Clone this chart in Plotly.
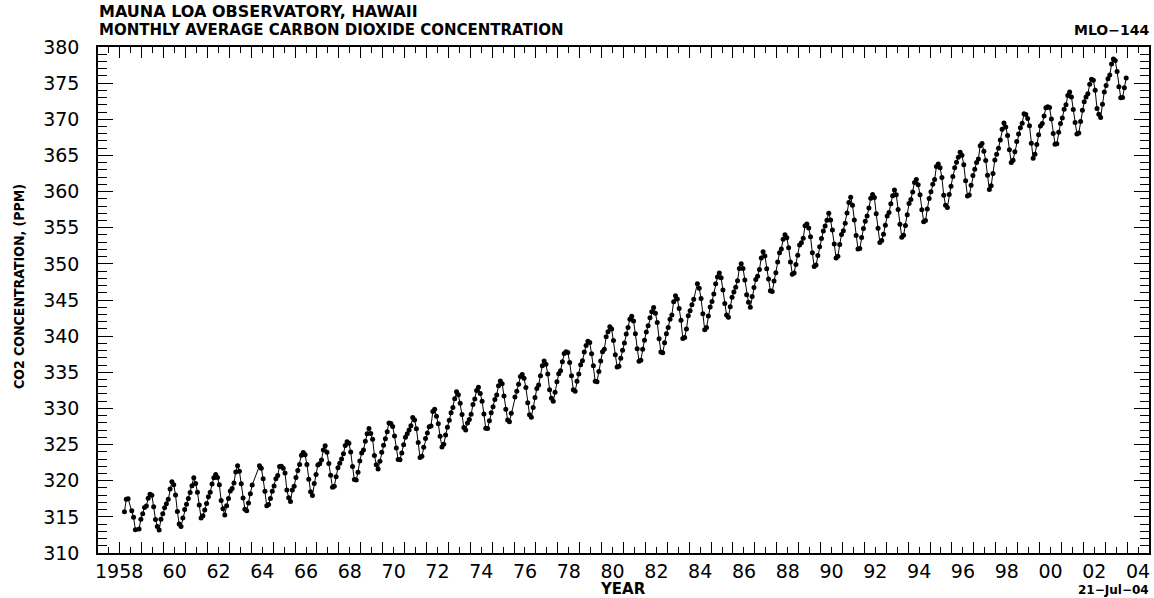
import plotly.graph_objects as go

# Monthly average CO2 at Mauna Loa (ppm); each list starts in January of its first year.
# None = month with no measurement.
start_years = [1958, 1960, 1970, 1980, 1990, 2000]
co2_1958_59 = [
    None, None, 315.71, 317.45, 317.50, None, 315.86, 314.93, 313.20, None, 313.33, 314.67,
    315.42, 316.31, 316.50, 317.56, 318.13, 318.00, 316.39, 314.65, 313.68, 313.18, 314.66, 315.43,
]
co2_1960s = [
    316.27, 316.81, 317.42, 318.87, 319.87, 319.43, 318.01, 315.74, 314.00, 313.68, 314.84, 316.03,
    316.73, 317.54, 318.38, 319.31, 320.42, 319.61, 318.42, 316.63, 314.83, 315.16, 315.94, 316.85,
    317.78, 318.40, 319.53, 320.42, 320.85, 320.45, 319.45, 317.25, 316.11, 315.27, 316.53, 317.53,
    318.58, 318.92, 319.70, 321.22, 322.08, 321.31, 319.58, 317.61, 316.05, 315.83, 316.91, 318.20,
    319.41, None, None, None, 322.06, 321.73, 320.27, 318.54, 316.54, 316.71, 317.53, 318.55,
    319.27, 320.28, 320.73, 321.97, 322.00, 321.71, 321.05, 318.71, 317.66, 317.14, 318.70, 319.25,
    320.46, 321.43, 322.23, 323.54, 323.91, 323.59, 322.24, 320.20, 318.48, 317.94, 319.63, 320.87,
    322.17, 322.34, 322.88, 324.25, 324.83, 323.93, 322.38, 320.76, 319.10, 319.24, 320.56, 321.80,
    322.40, 322.99, 323.73, 324.86, 325.40, 325.20, 323.98, 321.95, 320.18, 320.09, 321.16, 322.74,
    323.83, 324.26, 325.47, 326.50, 327.21, 326.54, 325.72, 323.50, 322.22, 321.62, 322.69, 323.95,
]
co2_1970s = [
    324.89, 325.82, 326.77, 327.97, 327.91, 327.50, 326.18, 324.53, 322.93, 322.90, 323.85, 324.96,
    326.01, 326.51, 327.01, 327.62, 328.76, 328.40, 327.20, 325.27, 323.20, 323.40, 324.63, 325.85,
    326.60, 327.47, 327.58, 329.56, 329.90, 328.92, 327.88, 326.16, 324.68, 325.04, 326.34, 327.39,
    328.37, 329.40, 330.14, 331.33, 332.31, 331.90, 330.70, 329.15, 327.35, 327.02, 327.99, 328.48,
    329.18, 330.55, 331.32, 332.48, 332.92, 332.08, 331.01, 329.23, 327.27, 327.21, 328.29, 329.41,
    330.23, 331.25, 331.87, 333.14, 333.80, 333.43, 331.73, 329.90, 328.40, 328.17, 329.32, None,
    331.58, 332.39, 333.33, 334.41, 334.71, 334.17, 332.89, 330.77, 329.14, 328.78, 330.14, 331.52,
    332.75, 333.24, 334.53, 335.90, 336.57, 336.10, 334.76, 332.59, 331.42, 330.98, 332.24, 333.68,
    334.80, 335.22, 336.47, 337.59, 337.84, 337.72, 336.37, 334.51, 332.60, 332.38, 333.75, 334.78,
    336.05, 336.59, 337.79, 338.71, 339.30, 339.12, 337.56, 335.92, 333.75, 333.70, 335.12, 336.56,
]
co2_1980s = [
    337.84, 338.19, 339.91, 340.60, 341.29, 341.00, 339.39, 337.43, 335.72, 335.84, 336.93, 338.04,
    339.06, 340.30, 341.21, 342.33, 342.74, 342.08, 340.32, 338.26, 336.52, 336.68, 338.19, 339.44,
    340.57, 341.44, 342.53, 343.39, 343.96, 343.18, 341.88, 339.65, 337.81, 337.69, 339.09, 340.32,
    341.20, 342.35, 342.93, 344.77, 345.58, 345.14, 343.81, 342.21, 339.69, 339.82, 340.98, 342.82,
    343.52, 344.33, 345.11, None, 347.25, 346.62, 345.22, 343.11, 340.90, 341.18, 342.80, 344.04,
    344.79, 345.82, 347.25, 348.17, 348.74, 348.07, 346.38, 344.51, 342.92, 342.62, 344.06, 345.38,
    346.11, 346.78, 347.68, 349.37, 350.03, 349.37, 347.76, 345.73, 344.68, 343.99, 345.48, 346.72,
    347.84, 348.29, 349.23, 350.80, 351.66, 351.07, 349.33, 347.92, 346.27, 346.18, 347.64, 348.78,
    350.25, 351.54, 352.05, 353.41, 354.04, 353.62, 352.22, 350.27, 348.55, 348.72, 349.91, 351.18,
    352.60, 352.92, 353.53, 355.26, 355.52, 354.97, 353.75, 351.52, 349.64, 349.83, 351.14, 352.37,
]
co2_1990s = [
    353.50, 354.55, 355.23, 356.04, 357.00, 356.07, 354.67, 352.76, 350.82, 351.04, 352.69, 354.07,
    354.59, 355.63, 357.03, 358.48, 359.22, 358.12, 356.06, 353.92, 352.05, 352.11, 353.64, 354.89,
    355.88, 356.63, 357.72, 359.07, 359.58, 359.17, 356.94, 354.92, 352.94, 353.23, 354.09, 355.33,
    356.63, 357.10, 358.32, 359.41, 360.23, 359.55, 357.53, 355.48, 353.67, 353.95, 355.30, 356.78,
    358.34, 358.89, 359.95, 361.25, 361.67, 360.94, 359.55, 357.49, 355.84, 356.00, 357.59, 359.05,
    359.98, 361.03, 361.66, 363.48, 363.82, 363.30, 361.94, 359.50, 358.11, 357.80, 359.61, 360.74,
    362.09, 363.29, 364.06, 364.76, 365.45, 365.01, 363.70, 361.48, 359.40, 359.54, 360.89, 362.24,
    363.09, 364.03, 364.51, 366.35, 366.64, 365.59, 364.31, 362.25, 360.29, 360.82, 362.49, 364.38,
    365.18, 365.98, 367.13, 368.61, 369.49, 368.95, 367.74, 365.79, 364.01, 364.35, 365.52, 366.93,
    367.97, 368.82, 369.46, 370.77, 370.66, 370.10, 369.10, 366.70, 364.61, 365.17, 366.51, 367.85,
]
co2_2000s = [
    369.08, 369.40, 370.45, 371.59, 371.75, 371.62, 370.04, 368.04, 366.54, 366.63, 368.20, 369.43,
    370.17, 371.39, 372.00, 373.28, 373.78, 373.10, 371.36, 369.55, 367.96, 368.09, 369.68, 371.24,
    372.44, 373.08, 373.52, 374.85, 375.55, 375.40, 374.02, 371.48, 370.70, 370.25, 372.08, 373.78,
    374.68, 375.62, 376.11, 377.65, 378.35, 378.13, 376.62, 374.50, 372.99, 373.01, 374.35, 375.70,
]

y_ticks = [310, 315, 320, 325, 330, 335, 340, 345, 350, 355, 360, 365, 370, 375, 380]
x_years = list(range(1957, 2006))
x_labels = {1960: "60", 1962: "62", 1964: "64", 1966: "66", 1968: "68",
            1970: "70", 1972: "72", 1974: "74", 1976: "76", 1978: "78", 1980: "80", 1982: "82",
            1984: "84", 1986: "86", 1988: "88", 1990: "90", 1992: "92", 1994: "94", 1996: "96",
            1998: "98", 2000: "00", 2002: "02", 2004: "04"}
first_label_year, first_label = 1958, "1958"

# ---- build series (decimal year at mid-month) ----
xs, ys = [], []
for start, block in zip(start_years, [co2_1958_59, co2_1960s, co2_1970s, co2_1980s, co2_1990s, co2_2000s]):
    for i, v in enumerate(block):
        yr = start + i // 12
        mo = i % 12
        if yr == 1958 and mo < 2:
            continue
        xs.append(yr + (mo + 0.5) / 12.0)
        ys.append(v)

W, H = 1154, 598
L, R, T, B = 98, 1149, 47, 553
PW, PH = R - L, B - T

def px(x):
    return (x - L) / PW

def py(y):
    return (B - y) / PH

FONT = "DejaVu Sans"
TICK_SIZE = 19

fig = go.Figure()
fig.add_trace(go.Scatter(
    x=xs, y=ys, mode="lines+markers", connectgaps=True,
    line=dict(color="black", width=1),
    marker=dict(color="black", size=5, symbol="circle"),
    hoverinfo="x+y", showlegend=False,
))

fig.update_layout(
    width=W, height=H,
    margin=dict(l=L, r=W - R, t=T, b=H - B, autoexpand=False),
    paper_bgcolor="white", plot_bgcolor="white",
    font=dict(family=FONT, color="black"),
    xaxis=dict(
        range=[1957, 2005], tickmode="array", tickvals=x_years,
        ticktext=[x_labels.get(y, "") for y in x_years], tickangle=0,
        ticks="inside", ticklen=11, tickwidth=1.3, tickcolor="black",
        ticklabelshift=11, ticklabelstandoff=0,
        minor=dict(tickmode="linear", tick0=1957.5, dtick=1, ticks="inside",
                   ticklen=6, tickwidth=1.3, tickcolor="black"),
        showline=True, linecolor="black", linewidth=1.6, mirror="ticks",
        showgrid=False, zeroline=False, fixedrange=True,
        tickfont=dict(family=FONT, size=TICK_SIZE, color="black"),
    ),
    yaxis=dict(
        range=[310, 380], tickmode="array", tickvals=y_ticks,
        ticktext=[str(v) for v in y_ticks],
        ticks="inside", ticklen=15, tickwidth=1.3, tickcolor="black",
        ticklabelstandoff=13,
        minor=dict(tickmode="linear", tick0=310, dtick=1, ticks="inside",
                   ticklen=9, tickwidth=1.3, tickcolor="black"),
        showline=True, linecolor="black", linewidth=1.6, mirror="ticks",
        showgrid=False, zeroline=False, fixedrange=True,
        tickfont=dict(family=FONT, size=TICK_SIZE, color="black"),
    ),
)

ann = [
    dict(text="MAUNA LOA OBSERVATORY, HAWAII", x=px(97), y=py(12), xanchor="left", yanchor="middle",
         font=dict(size=16, family=FONT, weight="bold"), xref="paper", yref="paper"),
    dict(text="MONTHLY AVERAGE CARBON DIOXIDE CONCENTRATION", x=px(97), y=py(30), xanchor="left",
         yanchor="middle", font=dict(size=15, family=FONT, weight="bold"), xref="paper", yref="paper"),
    dict(text="MLO\u2212144", x=px(1151), y=py(30), xanchor="right", yanchor="middle",
         font=dict(size=14, family=FONT, weight="bold"), xref="paper", yref="paper"),
    dict(text="YEAR", x=px(623), y=py(589), xanchor="center", yanchor="middle",
         font=dict(size=15, family=FONT, weight="bold"), xref="paper", yref="paper"),
    dict(text="21\u2212Jul\u221204", x=px(1151), y=py(590), xanchor="right", yanchor="middle",
         font=dict(size=12, family=FONT, weight="bold"), xref="paper", yref="paper"),
    dict(text="CO2 CONCENTRATION, (PPM)", x=px(19), y=py(287), xanchor="center", yanchor="middle",
         textangle=-90, xref="paper", yref="paper",
         font=dict(size=14, family="Liberation Sans Narrow, DejaVu Sans Condensed", weight="bold")),
    # first year label: the "58" part sits centred in its year, the "19" hangs to the left
    dict(text=first_label, x=first_label_year + 0.5, xref="x", y=0, yref="paper",
         xanchor="center", yanchor="top", xshift=-12, yshift=-5,
         font=dict(size=TICK_SIZE, family=FONT)),
]
for a in ann:
    a.update(showarrow=False)
fig.update_layout(annotations=ann)

fig.write_html("out.html", config={"displayModeBar": False},
               post_script="document.body.style.margin='0';document.body.style.overflow='hidden';")
